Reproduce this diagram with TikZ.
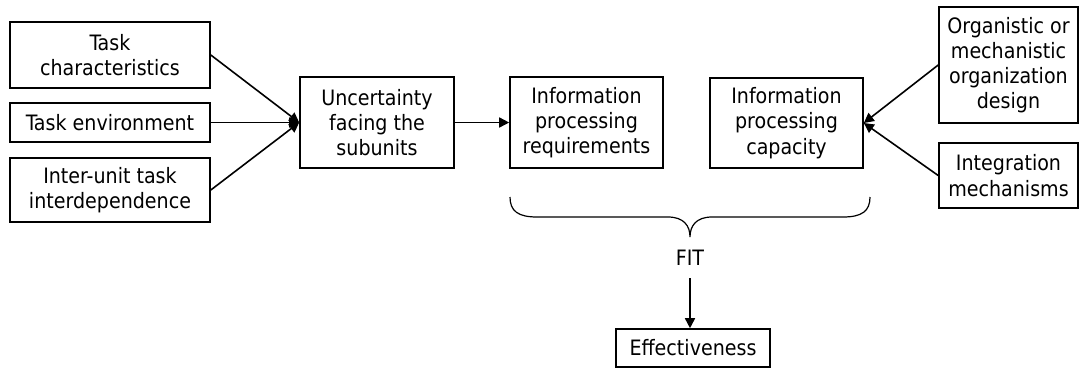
\documentclass[tikz,border=0pt]{standalone}
\usepackage{fontspec}
\setmainfont{DejaVu Sans Condensed}
\usetikzlibrary{arrows.meta}
\begin{document}
\begin{tikzpicture}[x=0.75pt,y=-0.75pt,
  lbl/.style={font=\fontsize{15.9}{18.9}\selectfont},
  box/.style={lbl, draw, line width=1.2pt, align=center, inner sep=0pt},
  sz/.style args={#1/#2}{minimum width=#1*0.75pt, minimum height=#2*0.75pt},
  link/.style={line width=1.2pt, -{Triangle[length=7.5pt,width=7.5pt]}},
]
\useasboundingbox (0,0) rectangle (1080,369);

% input factors
\node[box, sz=200/66] (tc) at (110,55) {Task\\characteristics};
\node[box, sz=200/39] (te) at (110,122.5) {Task environment};
\node[box, sz=200/64] (iu) at (110,190) {Inter-unit task\\interdependence};

% central chain
\node[box, sz=154/91] (un) at (377,122.5) {Uncertainty\\facing the\\subunits};
\node[box, sz=153/91] (ipr) at (586.5,122.5) {Information\\processing\\requirements};
\node[box, sz=153/90] (ipc) at (786.5,123) {Information\\processing\\capacity};

% design factors
\node[box, sz=139/116] (org) at (1008.5,65) {Organistic or\\mechanistic\\organization\\design};
\node[box, sz=139/65] (int) at (1008.5,175.5) {Integration\\mechanisms};

% outcome
\node[lbl, inner xsep=0pt, inner ysep=9.2pt] (fit) at (690,258) {FIT};
\node[box, sz=154/38] (eff) at (693,348) {Effectiveness};

% connectors
\draw[link] (tc.east) -- (un.west);
\draw[link] (te.east) -- (un.west);
\draw[link] (iu.east) -- (un.west);
\draw[link] (un.east) -- (ipr.west);
\draw[link] (org.west) -- (ipc.east);
\draw[link] (int.west) -- (ipc.east);
\draw[link] (fit.south) -- (fit.south |- eff.north);

% brace under requirements and capacity
\draw[line width=0.9pt]
  (510,197) .. controls (510,211) and (518,217) .. (537,217)
  -- (668,217) .. controls (684,217) and (690,226) .. (690,237)
  .. controls (690,226) and (696,217) .. (712,217)
  -- (843,217) .. controls (862,217) and (870,211) .. (870,197);
\end{tikzpicture}
\end{document}
